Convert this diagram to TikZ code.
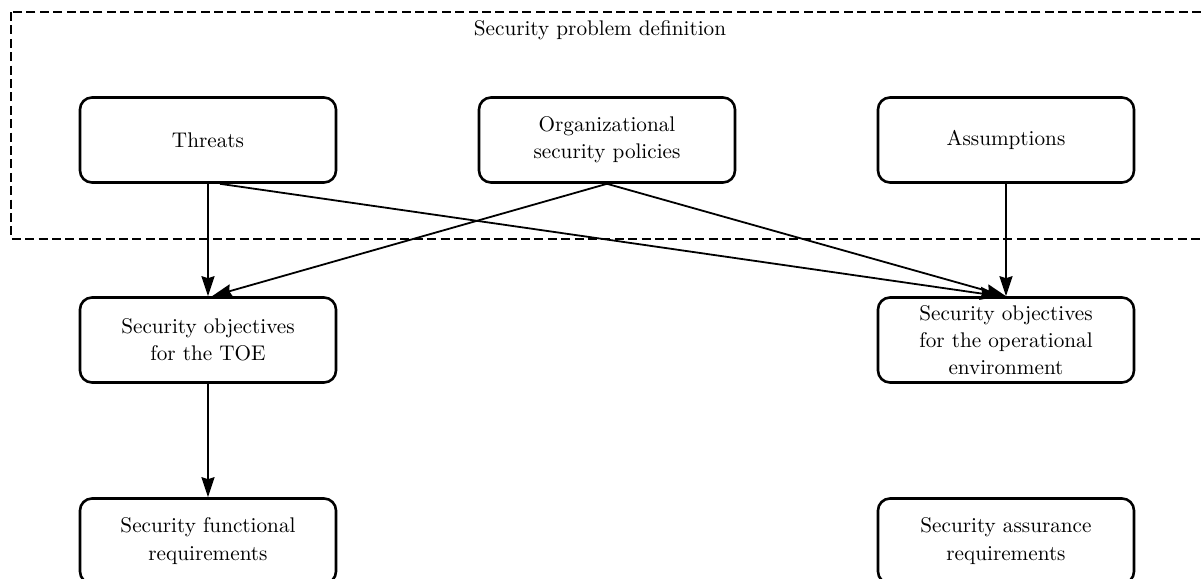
\documentclass[tikz,border=0pt]{standalone}
\usetikzlibrary{arrows.meta}
\tikzset{
  box/.style={draw, line width=1.3pt, rounded corners=6pt, minimum width=128pt, minimum height=42.5pt, align=center, inner sep=2pt},
  link/.style={->, line width=0.9pt},
}
\begin{document}
\begin{tikzpicture}[x=0.5pt, y=-0.5pt, font=\fontsize{10.6}{13.6}\selectfont, line join=round, >={Stealth[length=10pt,width=6.5pt,inset=1pt]}]
	\useasboundingbox (0,0) rectangle (1201,579);
	\clip (0,0) rectangle (1201,579);
	% problem definition frame
	\draw[line width=1.3pt, dash pattern=on 4.5pt off 2.2pt] (11,12) rectangle (1230,239);
	\node (spd) at (600,30) {Security problem definition};
	\node[box] (thr) at (208,140) {Threats};
	\node[box] (osp) at (607,140) {Organizational\\security policies};
	\node[box] (asm) at (1006,140) {Assumptions};
	% objectives
	\node[box] (sot) at (208,340) {Security objectives\\for the TOE};
	\node[box] (soe) at (1006,340) {Security objectives\\for the operational\\environment};
	% requirements
	\node[box] (sfr) at (208,541) {Security functional\\requirements};
	\node[box] (sar) at (1006,541) {Security assurance\\requirements};
	\draw[link] (thr.south) -- (sot.north);
	\draw[link] ([xshift=6pt]thr.south) -- ([xshift=-3pt]soe.north);
	\draw[link] (osp.south) -- ([xshift=2pt]sot.north);
	\draw[link] (osp.south) -- (soe.north);
	\draw[link] (asm.south) -- (soe.north);
	\draw[link] (sot.south) -- (sfr.north);
\end{tikzpicture}
\end{document}
